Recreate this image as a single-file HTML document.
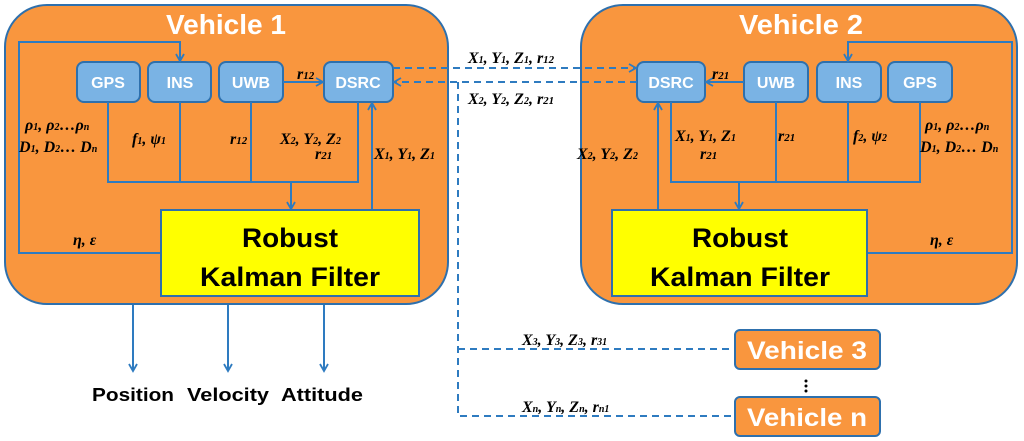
<!DOCTYPE html>
<html><head><meta charset="utf-8"><style>
html,body{margin:0;padding:0;background:#fff;}
svg{display:block;}
.t{font-family:"Liberation Sans",sans-serif;font-weight:bold;}
.m{font-family:"Liberation Serif",serif;font-weight:bold;font-style:italic;font-size:16px;fill:#000;}
.mod{fill:#7ab3e4;stroke:#2e70ad;stroke-width:2;}
.mt{font-family:"Liberation Sans",sans-serif;font-weight:bold;font-size:16px;fill:#fff;text-anchor:middle;}
.ln{stroke:#2e7bc0;stroke-width:2;fill:none;}
.ds{stroke:#2e7bc0;stroke-width:2;fill:none;stroke-dasharray:7,5;}
</style></head><body>
<svg width="1024" height="441" viewBox="0 0 1024 441">
<defs>
<marker id="a" markerWidth="10" markerHeight="10" refX="8" refY="5" orient="auto" markerUnits="userSpaceOnUse"><path d="M1,1 L8,5 L1,9" fill="none" stroke="#2e7bc0" stroke-width="1.8"/></marker>
</defs>
<rect x="5" y="5" width="443" height="299" rx="42" fill="#f9963e" stroke="#2e70ad" stroke-width="2"/>
<text x="226" y="34" class="t" font-size="28" fill="#fff" text-anchor="middle" textLength="120" lengthAdjust="spacingAndGlyphs">Vehicle 1</text>
<rect x="77" y="62" width="63" height="40" rx="7" class="mod"/><text x="108" y="88" class="mt">GPS</text>
<rect x="148" y="62" width="63" height="40" rx="7" class="mod"/><text x="180" y="88" class="mt">INS</text>
<rect x="219" y="62" width="64" height="40" rx="7" class="mod"/><text x="251" y="88" class="mt">UWB</text>
<rect x="324" y="62" width="69" height="40" rx="7" class="mod"/><text x="358" y="88" class="mt">DSRC</text>
<path class="ln" d="M161,253 H19 V42 H180 V61" marker-end="url(#a)"/>
<path class="ln" d="M108,102 V182 H358 V102 M180,102 V182 M251,102 V182"/>
<path class="ln" d="M291,182 V209" marker-end="url(#a)"/>
<path class="ln" d="M372,210 V103" marker-end="url(#a)"/>
<path class="ln" d="M283,82 H323" marker-end="url(#a)"/>
<rect x="161" y="210" width="258" height="86" fill="#ffff00" stroke="#2e70ad" stroke-width="2"/>
<text x="290" y="247" class="t" font-size="27" text-anchor="middle" textLength="96" lengthAdjust="spacingAndGlyphs">Robust</text>
<text x="290" y="286" class="t" font-size="27" text-anchor="middle" textLength="180" lengthAdjust="spacingAndGlyphs">Kalman Filter</text>
<text x="297" y="79" class="m">r<tspan font-size="11">12</tspan></text>
<text x="25" y="130" class="m">ρ<tspan font-size="10">1</tspan>, ρ<tspan font-size="10">2</tspan>…ρ<tspan font-size="10">n</tspan></text>
<text x="19" y="152" class="m">D<tspan font-size="10">1</tspan>, D<tspan font-size="10">2</tspan>… D<tspan font-size="10">n</tspan></text>
<text x="132" y="144" class="m">f<tspan font-size="10">1</tspan>, ψ<tspan font-size="10">1</tspan></text>
<text x="230" y="144" class="m">r<tspan font-size="11">12</tspan></text>
<text x="280" y="144" class="m">X<tspan font-size="10">2</tspan>, Y<tspan font-size="10">2</tspan>, Z<tspan font-size="10">2</tspan></text>
<text x="315" y="159" class="m">r<tspan font-size="11">21</tspan></text>
<text x="374" y="159" class="m">X<tspan font-size="10">1</tspan>, Y<tspan font-size="10">1</tspan>, Z<tspan font-size="10">1</tspan></text>
<text x="73" y="245" class="m">η, ε</text>
<path class="ln" d="M133,305 V371" marker-end="url(#a)"/>
<path class="ln" d="M228,305 V371" marker-end="url(#a)"/>
<path class="ln" d="M324,305 V371" marker-end="url(#a)"/>
<text x="133" y="401" class="t" font-size="18" text-anchor="middle" textLength="82" lengthAdjust="spacingAndGlyphs">Position</text>
<text x="228" y="401" class="t" font-size="18" text-anchor="middle" textLength="82" lengthAdjust="spacingAndGlyphs">Velocity</text>
<text x="322" y="401" class="t" font-size="18" text-anchor="middle" textLength="82" lengthAdjust="spacingAndGlyphs">Attitude</text>
<rect x="581" y="5" width="436" height="299" rx="42" fill="#f9963e" stroke="#2e70ad" stroke-width="2"/>
<text x="801" y="34" class="t" font-size="28" fill="#fff" text-anchor="middle" textLength="124" lengthAdjust="spacingAndGlyphs">Vehicle 2</text>
<rect x="637" y="62" width="68" height="40" rx="7" class="mod"/><text x="671" y="88" class="mt">DSRC</text>
<rect x="744" y="62" width="64" height="40" rx="7" class="mod"/><text x="776" y="88" class="mt">UWB</text>
<rect x="817" y="62" width="64" height="40" rx="7" class="mod"/><text x="849" y="88" class="mt">INS</text>
<rect x="888" y="62" width="64" height="40" rx="7" class="mod"/><text x="920" y="88" class="mt">GPS</text>
<path class="ln" d="M867,253 H1012 V42 H848 V61" marker-end="url(#a)"/>
<path class="ln" d="M671,102 V182 H920 V102 M776,102 V182 M848,102 V182"/>
<path class="ln" d="M739,182 V209" marker-end="url(#a)"/>
<path class="ln" d="M658,210 V103" marker-end="url(#a)"/>
<path class="ln" d="M744,82 H706" marker-end="url(#a)"/>
<rect x="612" y="210" width="255" height="86" fill="#ffff00" stroke="#2e70ad" stroke-width="2"/>
<text x="740" y="247" class="t" font-size="27" text-anchor="middle" textLength="96" lengthAdjust="spacingAndGlyphs">Robust</text>
<text x="740" y="286" class="t" font-size="27" text-anchor="middle" textLength="180" lengthAdjust="spacingAndGlyphs">Kalman Filter</text>
<text x="712" y="79" class="m">r<tspan font-size="11">21</tspan></text>
<text x="577" y="159" class="m">X<tspan font-size="10">2</tspan>, Y<tspan font-size="10">2</tspan>, Z<tspan font-size="10">2</tspan></text>
<text x="675" y="141" class="m">X<tspan font-size="10">1</tspan>, Y<tspan font-size="10">1</tspan>, Z<tspan font-size="10">1</tspan></text>
<text x="700" y="159" class="m">r<tspan font-size="11">21</tspan></text>
<text x="778" y="141" class="m">r<tspan font-size="11">21</tspan></text>
<text x="853" y="141" class="m">f<tspan font-size="10">2</tspan>, ψ<tspan font-size="10">2</tspan></text>
<text x="925" y="130" class="m">ρ<tspan font-size="10">1</tspan>, ρ<tspan font-size="10">2</tspan>…ρ<tspan font-size="10">n</tspan></text>
<text x="920" y="152" class="m">D<tspan font-size="10">1</tspan>, D<tspan font-size="10">2</tspan>… D<tspan font-size="10">n</tspan></text>
<text x="930" y="245" class="m">η, ε</text>
<path class="ds" d="M393,68 H636" marker-end="url(#a)"/>
<path class="ds" d="M637,82 H394" marker-end="url(#a)"/>
<path class="ds" d="M458,82 V416 H735 M458,349 H735"/>
<text x="468" y="63" class="m">X<tspan font-size="10">1</tspan>, Y<tspan font-size="10">1</tspan>, Z<tspan font-size="10">1</tspan>, r<tspan font-size="11">12</tspan></text>
<text x="468" y="104" class="m">X<tspan font-size="10">2</tspan>, Y<tspan font-size="10">2</tspan>, Z<tspan font-size="10">2</tspan>, r<tspan font-size="11">21</tspan></text>
<text x="522" y="345" class="m" font-weight="normal" font-size="15">X<tspan font-size="10">3</tspan>, Y<tspan font-size="10">3</tspan>, Z<tspan font-size="10">3</tspan>, r<tspan font-size="10">31</tspan></text>
<text x="522" y="412" class="m" font-weight="normal" font-size="15">X<tspan font-size="10">n</tspan>, Y<tspan font-size="10">n</tspan>, Z<tspan font-size="10">n</tspan>, r<tspan font-size="10">n1</tspan></text>
<rect x="735" y="330" width="145" height="39" rx="5" fill="#f9963e" stroke="#2e70ad" stroke-width="2"/>
<text x="807" y="359" class="t" font-size="25" fill="#fff" text-anchor="middle" textLength="120" lengthAdjust="spacingAndGlyphs">Vehicle 3</text>
<rect x="735" y="397" width="145" height="39" rx="5" fill="#f9963e" stroke="#2e70ad" stroke-width="2"/>
<text x="807" y="426" class="t" font-size="25" fill="#fff" text-anchor="middle" textLength="120" lengthAdjust="spacingAndGlyphs">Vehicle n</text>
<circle cx="806" cy="381" r="1.5" fill="#000"/><circle cx="806" cy="386" r="1.5" fill="#000"/><circle cx="806" cy="391" r="1.5" fill="#000"/>
</svg>
</body></html>
